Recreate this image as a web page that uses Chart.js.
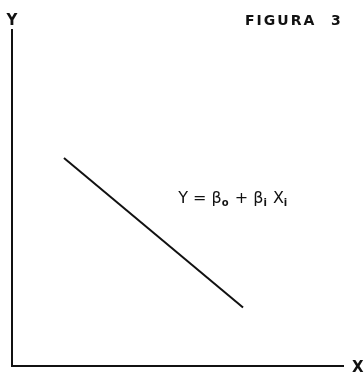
<!DOCTYPE html>
<html>
<head>
<meta charset="utf-8">
<script src="https://cdn.jsdelivr.net/npm/chart.js@4"></script>
<style>
  html, body { margin: 0; padding: 0; background: #fff; }
  #wrap { width: 364px; height: 373px; }
</style>
</head>
<body>
<div id="wrap"><canvas id="c" width="364" height="373"></canvas></div>
<script>
// Data (axes 0..100 with no printed ticks)
const lineX = [15.7, 69.8];
const lineY = [61.9, 17.4];
const figureTitleWord = "FIGURA";
const figureTitleNumber = "3";
const yAxisLabel = "Y";
const xAxisLabel = "X";
// Equation pieces: [text, isSubscript]
const equationParts = [["Y = β", false], ["o", true], [" + β", false], ["i", true], [" X", false], ["i", true]];

const points = lineX.map((x, i) => ({ x: x, y: lineY[i] }));

const ink = '#111';

const annotations = {
  id: 'annotations',
  afterDraw(chart) {
    const ctx = chart.ctx;
    const a = chart.chartArea;
    const xs = chart.scales.x, ys = chart.scales.y;
    ctx.save();
    ctx.fillStyle = ink;
    ctx.textBaseline = 'alphabetic';
    // Y label above y-axis
    ctx.font = 'bold 15px "DejaVu Sans"';
    ctx.textAlign = 'center';
    ctx.fillText(yAxisLabel, a.left, 25);
    // X label right of x-axis
    ctx.textAlign = 'left';
    ctx.fillText(xAxisLabel, a.right + 9, a.bottom + 6);
    // Figure title
    ctx.font = 'bold 14px "DejaVu Sans"';
    ctx.letterSpacing = '2px';
    ctx.fillText(figureTitleWord, 245, 25);
    ctx.letterSpacing = '0px';
    ctx.fillText(figureTitleNumber, 331, 25);
    // Equation
    let px = xs.getPixelForValue(50.2);
    const base = ys.getPixelForValue(48.4);
    for (const [t, sub] of equationParts) {
      ctx.font = sub ? 'bold 10px "DejaVu Sans"' : '16px "DejaVu Sans"';
      ctx.fillText(t, px, sub ? base + 3 : base);
      px += ctx.measureText(t).width + (sub ? 1 : 0);
    }
    ctx.restore();
  }
};

new Chart(document.getElementById('c'), {
  type: 'line',
  data: {
    datasets: [{
      data: points,
      borderColor: ink,
      borderWidth: 2,
      pointRadius: 0,
      tension: 0,
      fill: false
    }]
  },
  options: {
    responsive: false,
    animation: false,
    devicePixelRatio: 1,
    layout: { padding: { left: 12, top: 30, right: 21, bottom: 7 } },
    plugins: { legend: { display: false }, tooltip: { enabled: false }, title: { display: false } },
    scales: {
      x: {
        type: 'linear', min: 0, max: 100,
        ticks: { display: false },
        grid: { display: false, drawTicks: false },
        border: { display: true, color: ink, width: 2 }
      },
      y: {
        type: 'linear', min: 0, max: 100,
        ticks: { display: false },
        grid: { display: false, drawTicks: false },
        border: { display: true, color: ink, width: 2 }
      }
    }
  },
  plugins: [annotations]
});
</script>
</body>
</html>
